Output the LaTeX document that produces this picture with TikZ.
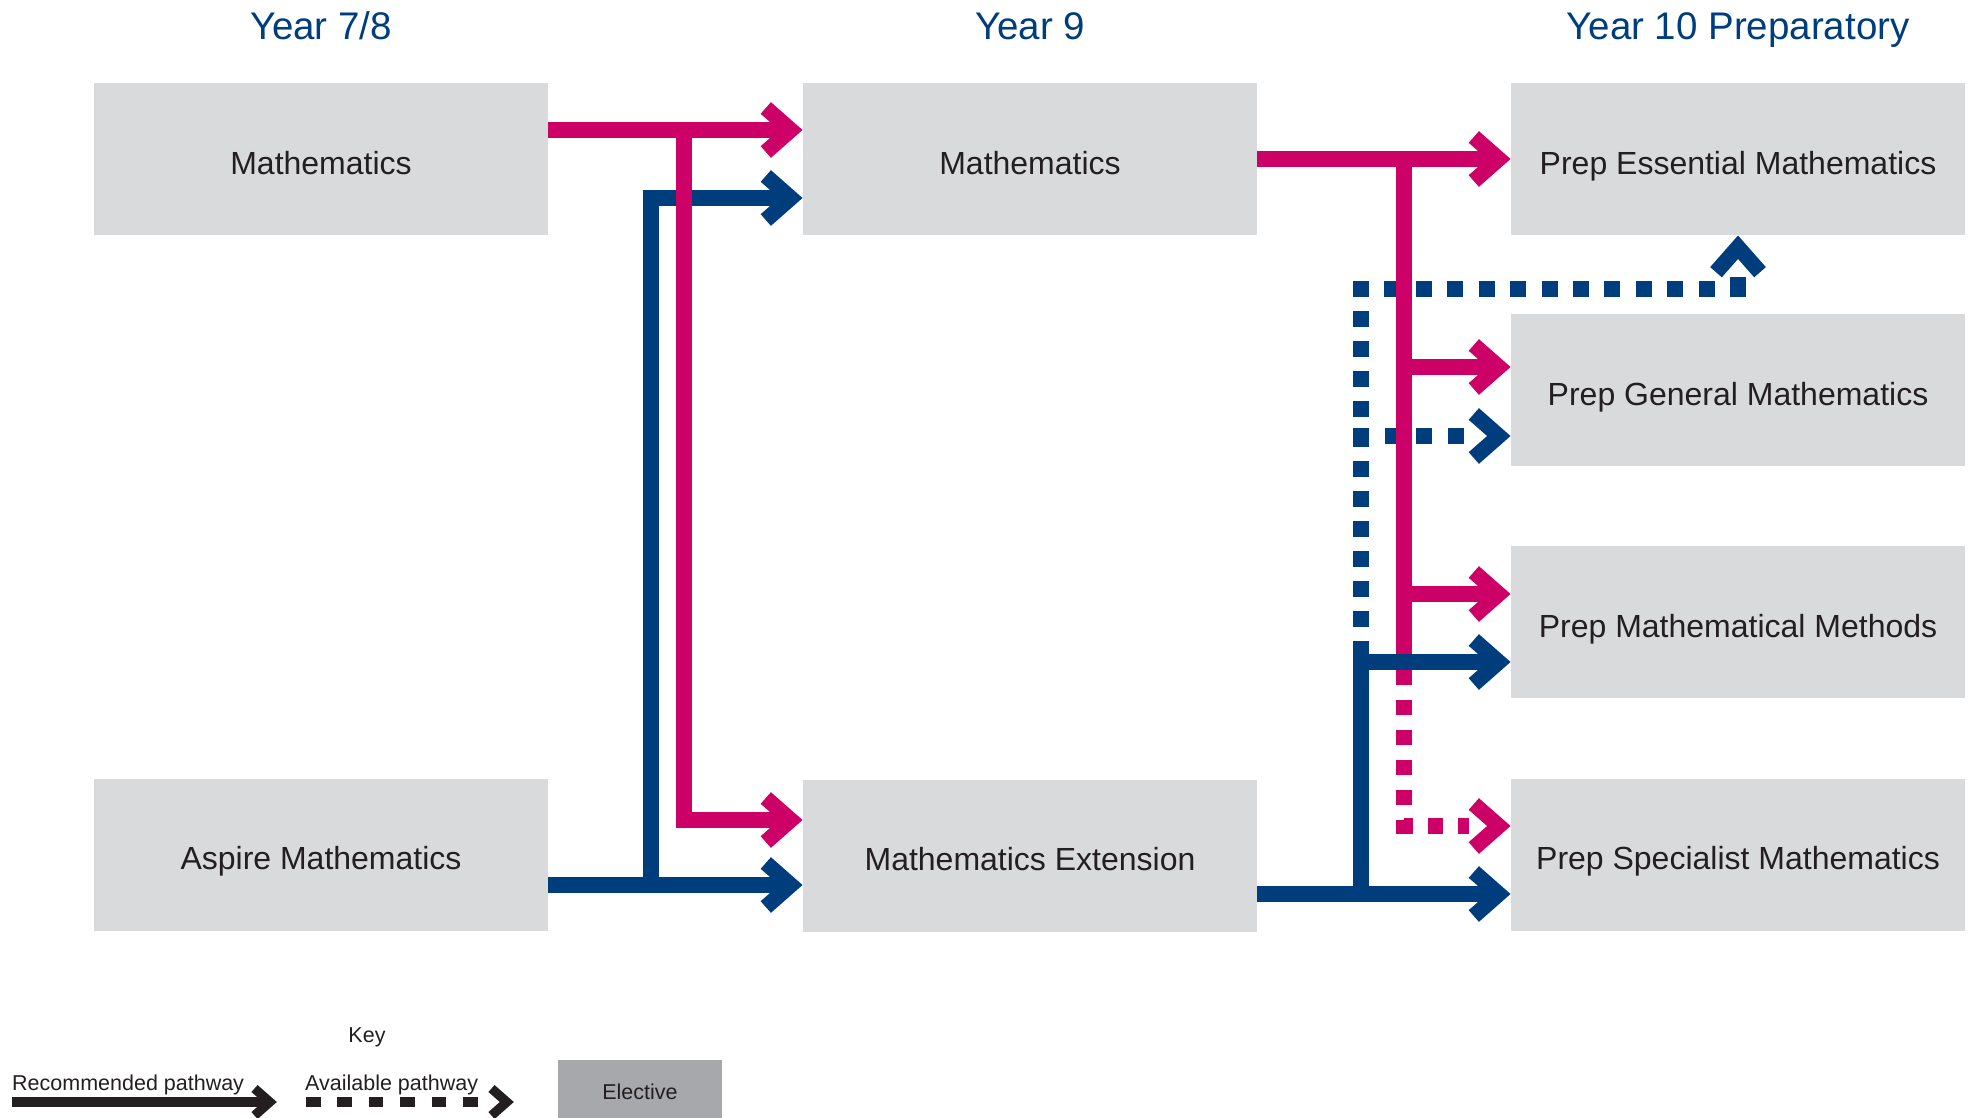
\documentclass[tikz,border=0pt]{standalone}
\usepackage{fontspec}
\setmainfont{Liberation Sans}
\usetikzlibrary{calc,arrows.meta}
\definecolor{pinkc}{RGB}{204,0,102}
\definecolor{bluec}{RGB}{0,61,125}
\definecolor{boxg}{RGB}{217,218,220}
\definecolor{elg}{RGB}{167,168,171}
\definecolor{txt}{RGB}{35,31,32}
% chevron tips (open ">" stroked with the line width)
\pgfdeclarearrow{
  name=Chev,
  setup code={
    \pgfarrowssettipend{0pt}
    \pgfarrowssetlineend{-10pt}
    \pgfarrowssetvisualbackend{-42pt}
    \pgfarrowssetbackend{-42pt}
    \pgfarrowshullpoint{0pt}{0pt}
    \pgfarrowsupperhullpoint{-42pt}{28pt}
  },
  drawing code={
    \pgfsetdash{}{0pt}\pgfsetmiterjoin\pgfsetbuttcap
    \pgfpathmoveto{\pgfqpoint{-37pt}{22pt}}
    \pgfpathlineto{\pgfqpoint{-12pt}{0pt}}
    \pgfpathlineto{\pgfqpoint{-37pt}{-22pt}}
    \pgfusepathqstroke
  }
}
\pgfdeclarearrow{
  name=ChevD,
  setup code={
    \pgfarrowssettipend{0pt}
    \pgfarrowssetlineend{-42pt}
    \pgfarrowssetvisualbackend{-42pt}
    \pgfarrowssetbackend{-42pt}
    \pgfarrowshullpoint{0pt}{0pt}
    \pgfarrowsupperhullpoint{-42pt}{28pt}
  },
  drawing code={
    \pgfsetdash{}{0pt}\pgfsetmiterjoin\pgfsetbuttcap
    \pgfpathmoveto{\pgfqpoint{-37pt}{22pt}}
    \pgfpathlineto{\pgfqpoint{-12pt}{0pt}}
    \pgfpathlineto{\pgfqpoint{-37pt}{-22pt}}
    \pgfusepathqstroke
  }
}
\pgfdeclarearrow{
  name=ChevS,
  setup code={
    \pgfarrowssettipend{0pt}
    \pgfarrowssetlineend{-6pt}
    \pgfarrowssetvisualbackend{-26pt}
    \pgfarrowssetbackend{-26pt}
    \pgfarrowshullpoint{0pt}{0pt}
    \pgfarrowsupperhullpoint{-26pt}{18pt}
  },
  drawing code={
    \pgfsetdash{}{0pt}\pgfsetmiterjoin\pgfsetbuttcap
    \pgfpathmoveto{\pgfqpoint{-22.5pt}{13.5pt}}
    \pgfpathlineto{\pgfqpoint{-7.2pt}{0pt}}
    \pgfpathlineto{\pgfqpoint{-22.5pt}{-13.5pt}}
    \pgfusepathqstroke
  }
}
\pgfdeclarearrow{
  name=ChevSD,
  setup code={
    \pgfarrowssettipend{0pt}
    \pgfarrowssetlineend{-25pt}
    \pgfarrowssetvisualbackend{-26pt}
    \pgfarrowssetbackend{-26pt}
    \pgfarrowshullpoint{0pt}{0pt}
    \pgfarrowsupperhullpoint{-26pt}{18pt}
  },
  drawing code={
    \pgfsetdash{}{0pt}\pgfsetmiterjoin\pgfsetbuttcap
    \pgfpathmoveto{\pgfqpoint{-22.5pt}{13.5pt}}
    \pgfpathlineto{\pgfqpoint{-7.2pt}{0pt}}
    \pgfpathlineto{\pgfqpoint{-22.5pt}{-13.5pt}}
    \pgfusepathqstroke
  }
}
\begin{document}
\begin{tikzpicture}[x=1pt,y=-1pt,
  course/.style={fill=boxg, minimum width=454pt, minimum height=152pt, inner sep=0pt,
    text=txt, font=\fontsize{32}{38}\selectfont, text height=30pt, text depth=0pt},
  yearhead/.style={text=bluec, font=\fontsize{38.5}{46}\selectfont, anchor=base, inner sep=0pt},
  rec/.style={line width=15.5pt, line join=miter, line cap=butt},
  avail/.style={rec, dash pattern=on 15.5pt off 14.5pt},
  keytext/.style={font=\fontsize{21.5}{26}\selectfont, text=txt, inner sep=0pt},
  keyline/.style={line width=9.3pt, line join=miter, line cap=butt, draw=txt}
]
\useasboundingbox (0,0) rectangle (1970,1117);

% headings
\node[yearhead] (h1) at (321,39) {Year 7/8};
\node[yearhead] (h2) at (1030,39) {Year 9};
\node[yearhead] (h3) at (1738,39) {Year 10 Preparatory};

% course boxes
\node[course] (a78)  at (321,159)    {Mathematics};
\node[course] (asp)  at (321,854.5)  {Aspire Mathematics};
\node[course] (m9)   at (1030,159)   {Mathematics};
\node[course] (ext)  at (1030,855.5) {Mathematics Extension};
\node[course] (ess)  at (1738,159)   {Prep Essential Mathematics};
\node[course] (gen)  at (1738,390)   {Prep General Mathematics};
\node[course] (meth) at (1738,622)   {Prep Mathematical Methods};
\node[course] (spec) at (1738,854.5) {Prep Specialist Mathematics};

% junction coordinates
\coordinate (bL) at (651,885);
\coordinate (pL) at (684,130);
\coordinate (bR) at (1361,894);
\coordinate (bRtop) at (1361,641);
\coordinate (bRcorner) at (1361,281);
\coordinate (pR) at (1404,159);
\coordinate (pRend) at (1404,685);

% ---- left: Year 7/8 -> Year 9
\draw[rec,draw=bluec,-Chev] ($(asp.east)+(0,30.5)$) -- ($(ext.west)+(0,29.5)$);
\draw[rec,draw=bluec,-Chev] (bL) |- ($(m9.west)+(0,39)$);
\draw[rec,draw=pinkc,-Chev] ($(a78.east)+(0,-29)$) -- ($(m9.west)+(0,-29)$);
\draw[rec,draw=pinkc,-Chev] (pL) |- ($(ext.west)+(0,-35.5)$);

% ---- right: blue available pathways
\draw[avail,draw=bluec] (bRcorner) -- (bRtop);
\draw[avail,draw=bluec,dash pattern=on 16pt off 15.42pt] (1353,289) -- (1746,289);
\draw[rec,draw=bluec,-ChevD] (1738,297) -- (ess.south);
\draw[avail,draw=bluec,dash pattern=on 16pt off 15.5pt,-ChevD] (1353,436) -- ($(gen.west)+(0,46)$);

% ---- right: pink pathways
\draw[rec,draw=pinkc,-Chev] (m9.east) -- (ess.west);
\draw[rec,draw=pinkc] (pR) -- (pRend);
\draw[rec,draw=pinkc,-Chev] (1404,367) -- ($(gen.west)+(0,-23)$);
\draw[rec,draw=pinkc,-Chev] (1404,594) -- ($(meth.west)+(0,-28)$);
\draw[avail,draw=pinkc,dash pattern=on 15pt off 15pt,dash phase=15pt,-ChevD] (pRend) |- ($(spec.west)+(0,-28.5)$);

% ---- right: blue recommended pathways
\draw[rec,draw=bluec,-Chev] ($(ext.east)+(0,38.5)$) -- ($(spec.west)+(0,39.5)$);
\draw[rec,draw=bluec] (bR) -- (bRtop);
\draw[rec,draw=bluec,-Chev] (1361,662) -- ($(meth.west)+(0,40)$);

% ---- key
\node[keytext,anchor=base] (key) at (367,1042) {Key};
\node[keytext,anchor=base west] (krec) at (12,1090) {Recommended pathway};
\coordinate (kr1) at (12,1102);
\coordinate (kr2) at (277,1102);
\draw[keyline,-ChevS] (kr1) -- (kr2);
\node[keytext,anchor=base west] (kav) at (305,1090) {Available pathway};
\coordinate (ka1) at (306,1102);
\coordinate (ka2) at (514,1102);
\draw[keyline,dash pattern=on 14.5pt off 16.9pt,-ChevSD] (ka1) -- (ka2);
\node[fill=elg, minimum width=164pt, minimum height=64pt, inner sep=0pt, text=txt,
  font=\fontsize{21.5}{26}\selectfont] (elec) at (640,1092) {Elective};
\end{tikzpicture}
\end{document}
